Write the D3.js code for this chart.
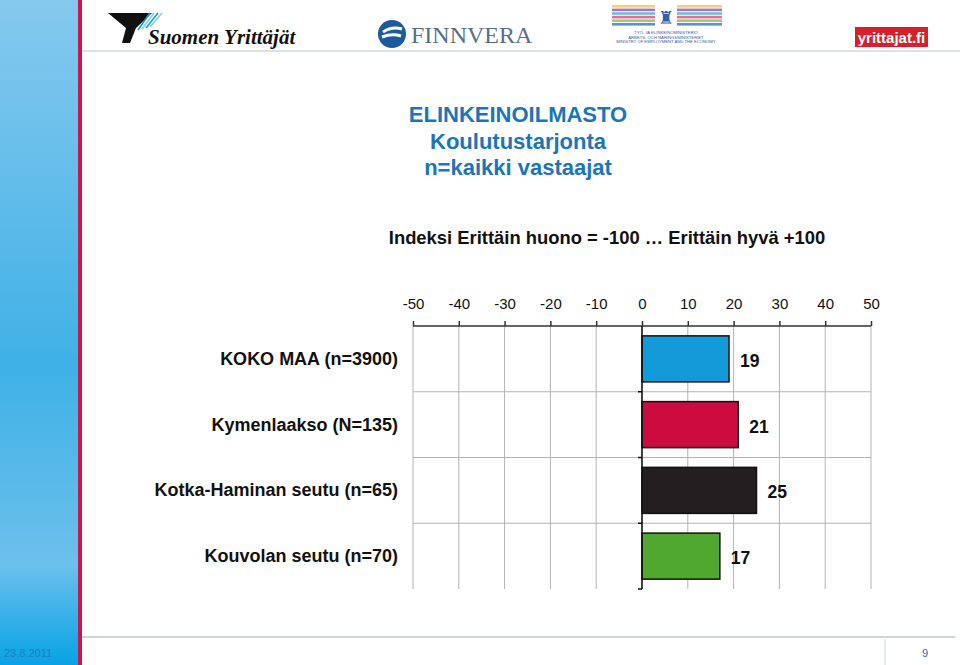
<!DOCTYPE html>
<html>
<head>
<meta charset="utf-8">
<script src="https://cdn.jsdelivr.net/npm/d3@7"></script>
<style>
  html, body { margin: 0; padding: 0; background: #fff; }
  svg { display: block; font-family: "Liberation Sans", Arial, sans-serif; }
</style>
</head>
<body>
<div id="chart"></div>
<script>
// chart data
const categories = [
  "KOKO MAA (n=3900)",
  "Kymenlaakso (N=135)",
  "Kotka-Haminan seutu (n=65)",
  "Kouvolan seutu (n=70)"
];
const values = [19, 21, 25, 17];
const barColors = ["#129ad9", "#cc0c3e", "#231f20", "#51a830"];
const tickValues = [-50, -40, -30, -20, -10, 0, 10, 20, 30, 40, 50];
const titleLines = ["ELINKEINOILMASTO", "Koulutustarjonta", "n=kaikki vastaajat"];
const subtitle = "Indeksi Erittäin huono = -100 … Erittäin hyvä +100";
const footerDate = "23.8.2011";
const pageNumber = "9";

const W = 960, H = 665;

const svg = d3.select("#chart")
  .append("svg")
  .attr("width", W)
  .attr("height", H);

const defs = svg.append("defs");
const grad = defs.append("linearGradient")
  .attr("id", "side")
  .attr("x1", 0).attr("y1", 0).attr("x2", 0).attr("y2", 1);
grad.append("stop").attr("offset", "0%").attr("stop-color", "#86c9ee");
grad.append("stop").attr("offset", "55%").attr("stop-color", "#3fb1e6");
grad.append("stop").attr("offset", "85%").attr("stop-color", "#6cc0ec");
grad.append("stop").attr("offset", "100%").attr("stop-color", "#08a2e4");

// left sidebar
svg.append("rect").attr("x", 0).attr("y", 0).attr("width", 79).attr("height", H)
  .attr("fill", "url(#side)");
svg.append("rect").attr("x", 78).attr("y", 0).attr("width", 4).attr("height", H)
  .attr("fill", "#c8174a");

// header and footer rules
svg.append("line").attr("x1", 82).attr("x2", W).attr("y1", 51).attr("y2", 51)
  .attr("stroke", "#cdd8dc").attr("stroke-width", 1.5);
svg.append("line").attr("x1", 82).attr("x2", 955).attr("y1", 637).attr("y2", 637)
  .attr("stroke", "#b8c8d0").attr("stroke-width", 1.5);
svg.append("line").attr("x1", 885).attr("x2", 885).attr("y1", 639).attr("y2", 665)
  .attr("stroke", "#c8d4da");
svg.append("text").attr("x", 4).attr("y", 657)
  .attr("font-size", 11).attr("fill", "#1a7fc0").text(footerDate);
svg.append("text").attr("x", 925).attr("y", 657).attr("text-anchor", "middle")
  .attr("font-size", 11).attr("fill", "#1a6fb0").text(pageNumber);

// logos (simplified)
const logo = svg.append("g");
logo.append("path").attr("d", "M108,13 L152,13 L136,28 L130,43 L122,43 L126,28 Z").attr("fill", "#111");
[0, 1, 2, 3].forEach(i => {
  logo.append("line")
    .attr("x1", 138 + i * 4).attr("y1", 30 - i * 1)
    .attr("x2", 150 + i * 4).attr("y2", 13)
    .attr("stroke", i % 2 ? "#7fd0ee" : "#1c9ad6").attr("stroke-width", 1.6);
});
logo.append("text").attr("x", 148).attr("y", 44)
  .attr("font-family", "'Liberation Serif', serif").attr("font-style", "italic")
  .attr("font-weight", "bold").attr("font-size", 21).attr("fill", "#111")
  .text("Suomen Yrittäjät");

logo.append("circle").attr("cx", 392).attr("cy", 34).attr("r", 14).attr("fill", "#1d5a9e");
logo.append("path").attr("d", "M383,32 Q392,26 402,29 M382,37 Q392,33 401,36")
  .attr("stroke", "#fff").attr("stroke-width", 3).attr("fill", "none");
logo.append("text").attr("x", 411).attr("y", 43)
  .attr("font-family", "'Liberation Serif', serif").attr("font-size", 24)
  .attr("fill", "#5a6f85").text("FINNVERA");

const stripeCols = ["#f4c94a", "#9a5bb8", "#4cb6d6", "#ef4f7f", "#88c65a", "#3a7fd0"];
stripeCols.forEach((c, i) => {
  logo.append("rect").attr("x", 612).attr("y", 5 + i * 3.6).attr("width", 110).attr("height", 2.6)
    .attr("fill", c).attr("opacity", 0.85);
});
logo.append("rect").attr("x", 655).attr("y", 4).attr("width", 22).attr("height", 24).attr("fill", "#fff");
logo.append("text").attr("x", 666).attr("y", 24).attr("text-anchor", "middle")
  .attr("font-size", 18).attr("fill", "#2e5fa8").text("♜");
["TYÖ- JA ELINKEINOMINISTERIÖ", "ARBETS- OCH NÄRINGSMINISTERIET", "MINISTRY OF EMPLOYMENT AND THE ECONOMY"]
  .forEach((t, i) => {
    logo.append("text").attr("x", 666).attr("y", 34 + i * 4.5).attr("text-anchor", "middle")
      .attr("font-size", 4.2).attr("fill", "#3a5aa0").text(t);
  });

logo.append("rect").attr("x", 855).attr("y", 27).attr("width", 73).attr("height", 20).attr("fill", "#d8202a");
logo.append("text").attr("x", 891.5).attr("y", 43).attr("text-anchor", "middle")
  .attr("font-weight", "bold").attr("font-size", 15).attr("fill", "#fff")
  .attr("font-family", "'Liberation Sans Narrow', 'Liberation Sans', sans-serif")
  .text("yrittajat.fi");

// titles
svg.append("g").selectAll("text")
  .data(titleLines)
  .join("text")
  .attr("x", 518)
  .attr("y", (d, i) => 122 + i * 26.5)
  .attr("text-anchor", "middle")
  .attr("font-size", 22)
  .attr("font-weight", "bold")
  .attr("fill", "#1b75bc")
  .text(d => d);

svg.append("text")
  .attr("x", 607).attr("y", 244)
  .attr("text-anchor", "middle")
  .attr("font-size", 18.4).attr("font-weight", "bold").attr("fill", "#111")
  .text(subtitle);

// scales
const x = d3.scaleLinear().domain([-50, 50]).range([413, 871]);
const rowTop = 326, rowBottom = 589;
const yBand = d3.scaleBand().domain(categories).range([rowTop, rowBottom]).paddingInner(0.3).paddingOuter(0.15);

const plot = svg.append("g");

// grid: vertical
plot.selectAll("line.vgrid")
  .data(tickValues)
  .join("line")
  .attr("class", "vgrid")
  .attr("x1", d => x(d)).attr("x2", d => x(d))
  .attr("y1", rowTop).attr("y2", rowBottom)
  .attr("stroke", "#b3b3b3").attr("stroke-width", 1);

// grid: horizontal row separators
const bounds = d3.range(1, categories.length).map(i => rowTop + i * (rowBottom - rowTop) / categories.length);
plot.selectAll("line.hgrid")
  .data(bounds)
  .join("line")
  .attr("class", "hgrid")
  .attr("x1", x(-50)).attr("x2", x(50))
  .attr("y1", d => d).attr("y2", d => d)
  .attr("stroke", "#b3b3b3").attr("stroke-width", 1);

// top axis
const xAxis = d3.axisTop(x)
  .tickValues(tickValues)
  .tickSize(5)
  .tickPadding(12)
  .tickFormat(d => String(d));
const ax = plot.append("g")
  .attr("transform", `translate(0,${rowTop})`)
  .call(xAxis);
ax.select(".domain").attr("stroke", "#333").attr("stroke-width", 1.5).attr("d", `M${x(-50)},0H${x(50)}`);
ax.selectAll(".tick line").attr("stroke", "#333").attr("stroke-width", 1.5);
ax.selectAll(".tick text")
  .attr("font-size", 15).attr("fill", "#111")
  .attr("font-family", "'Liberation Sans', Arial, sans-serif");

// bars
plot.selectAll("rect.bar")
  .data(categories)
  .join("rect")
  .attr("class", "bar")
  .attr("x", (d, i) => x(Math.min(0, values[i])))
  .attr("y", d => yBand(d))
  .attr("width", (d, i) => Math.abs(x(values[i]) - x(0)))
  .attr("height", yBand.bandwidth())
  .attr("fill", (d, i) => barColors[i])
  .attr("stroke", "#111").attr("stroke-width", 1.5);

// zero axis with left ticks at row boundaries
plot.append("line")
  .attr("x1", x(0)).attr("x2", x(0)).attr("y1", rowTop).attr("y2", rowBottom)
  .attr("stroke", "#111").attr("stroke-width", 1.5);
plot.selectAll("line.ytick")
  .data(bounds.concat([rowBottom]))
  .join("line")
  .attr("class", "ytick")
  .attr("x1", x(0) - 4).attr("x2", x(0))
  .attr("y1", d => d).attr("y2", d => d)
  .attr("stroke", "#111").attr("stroke-width", 1.5);

// value labels
plot.selectAll("text.val")
  .data(categories)
  .join("text")
  .attr("class", "val")
  .attr("x", (d, i) => x(values[i]) + 11)
  .attr("y", d => yBand(d) + yBand.bandwidth() / 2 + 8)
  .attr("font-size", 17.5).attr("font-weight", "bold").attr("fill", "#111")
  .text((d, i) => values[i]);

// category labels
plot.selectAll("text.cat")
  .data(categories)
  .join("text")
  .attr("class", "cat")
  .attr("x", 398)
  .attr("y", d => yBand(d) + yBand.bandwidth() / 2 + 6)
  .attr("text-anchor", "end")
  .attr("font-size", 18).attr("font-weight", "bold").attr("fill", "#111")
  .text(d => d);
</script>
</body>
</html>
